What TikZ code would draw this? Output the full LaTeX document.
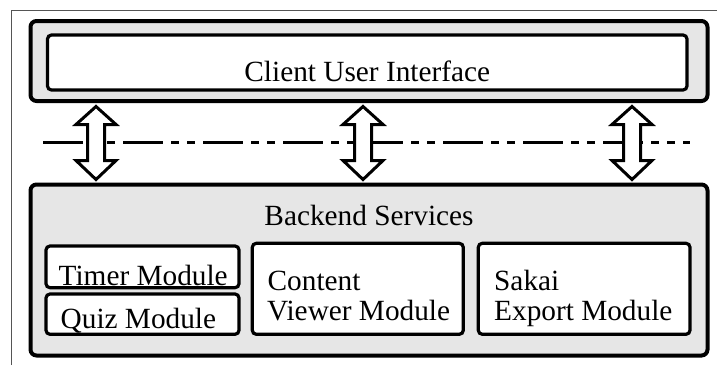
\documentclass[tikz,border=0pt]{standalone}
\usepackage{fontspec}
\setmainfont{Liberation Serif}
\definecolor{boxgray}{HTML}{E6E6E6}
\definecolor{framegray}{HTML}{555555}
\begin{document}
\begin{tikzpicture}[x=1pt,y=-1pt,
 outerbox/.style={draw=black, line width=4pt, fill=boxgray, rounded corners=6pt, inner sep=0pt},
 innerbox/.style={draw=black, line width=3.2pt, fill=white, rounded corners=4pt, inner sep=0pt},
 lbl/.style={font=\fontsize{29.3}{30}\selectfont, inner sep=0pt},
 blockarrow/.style={draw=black, line width=3pt, fill=white, line join=miter},
 dblarrow/.pic={\draw[blockarrow] (0,106.5) -- (20,124.5) -- (8.5,124.5) -- (8.5,160.5) -- (20,160.5) -- (0,179.5) -- (-20,160.5) -- (-8.5,160.5) -- (-8.5,124.5) -- (-20,124.5) -- cycle;}]
\useasboundingbox (0,0) rectangle (717,365);
\draw[framegray, line width=1pt] (11.5,365) -- (11.5,10.5) -- (717,10.5);

% client
\node[outerbox, minimum width=677pt, minimum height=80pt] (client) at (369,61) {};
\node[innerbox, minimum width=639.5pt, minimum height=55pt] (ui) at (367.25,62.5) {};
\node[lbl, anchor=base] (uitxt) at (367.25,81) {Client User Interface};

% backend
\node[outerbox, minimum width=677pt, minimum height=171pt] (backend) at (369,270) {};
\node[lbl, anchor=base] (betxt) at (369,225) {Backend Services};
\node[innerbox, minimum width=193pt, minimum height=41.7pt] (timer) at (142.5,266.85) {};
\node[innerbox, minimum width=193pt, minimum height=40.3pt] (quiz) at (142.5,314.15) {};
\node[innerbox, minimum width=211pt, minimum height=91pt] (content) at (357.8,288.8) {};
\node[innerbox, minimum width=211.7pt, minimum height=91pt] (sakai) at (584.15,288.8) {};
\node[lbl, anchor=base west] (timertxt) at (58.5,285) {Timer Module};
\node[lbl, anchor=base west] (quiztxt) at (60.5,328.3) {Quiz Module};
\node[lbl, anchor=base west] (contxt1) at (267.5,290) {Content};
\node[lbl, anchor=base west] (contxt2) at (267,320) {Viewer Module};
\node[lbl, anchor=base west] (saktxt1) at (494,290) {Sakai};
\node[lbl, anchor=base west] (saktxt2) at (494,320) {Export Module};

% separator line
\coordinate (sepL) at (43,142);
\coordinate (sepR) at (690,142);
\draw[line width=3pt, dash pattern=on 40pt off 8pt on 8pt off 8pt on 8pt off 8pt] (sepL) -- (sepR);

% arrows
\pic at (96,0) {dblarrow};
\pic at (363,0) {dblarrow};
\pic at (632,0) {dblarrow};
\end{tikzpicture}
\end{document}
